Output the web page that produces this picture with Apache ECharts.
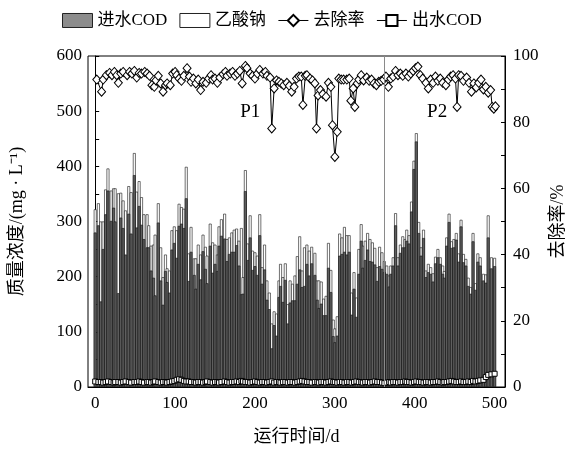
<!DOCTYPE html>
<html>
<head>
<meta charset="utf-8">
<script src="https://cdn.jsdelivr.net/npm/echarts@6/dist/echarts.min.js"></script>
<style>
  html, body { margin: 0; padding: 0; background: #fff; }
  #main { width: 569px; height: 450px; }
</style>
</head>
<body>
<div id="main"></div>
<script>
// Operating day of each sample
const barDays = [
  0,4,7,10,13,16,20,23,25,29,
  32,35,38,42,45,49,52,55,58,61,
  65,67,70,73,75,79,82,85,88,90,
  93,96,99,102,105,108,111,114,117,120,
  124,126,129,132,135,138,140,144,147,150,
  153,155,158,162,165,168,171,174,177,180,
  183,185,188,191,194,197,200,203,206,209,
  212,215,218,221,224,227,230,232,235,238,
  241,244,247,250,253,256,259,262,265,268,
  271,275,278,280,283,286,289,292,295,298,
  300,303,306,309,312,315,318,321,324,327,
  330,333,335,338,341,344,347,350,353,356,
  359,362,365,368,370,373,376,379,382,385,
  388,390,393,396,399,402,405,408,411,414,
  417,420,423,426,429,432,435,437,440,443,
  446,449,452,455,458,461,464,467,470,473,
  476,479,482,486,489,492,496,500
];
// Influent COD (mg/L)
const influentCOD = [
  280,293,155,250,313,356,301,325,300,170,
  307,288,240,314,278,384,289,328,294,268,
  253,253,211,198,166,298,193,149,210,190,
  171,249,261,234,292,296,288,342,192,245,
  203,178,223,195,246,214,188,256,207,223,
  210,256,274,269,228,241,245,245,257,220,
  168,169,355,230,271,212,219,203,275,187,
  213,158,141,70,112,93,163,183,154,194,
  115,153,157,157,187,213,181,183,223,202,
  224,203,158,143,151,130,130,216,172,92,
  81,93,238,241,245,240,245,131,178,127,
  205,265,216,230,249,228,227,222,192,219,
  214,208,205,182,205,220,293,220,243,253,
  253,265,260,318,395,445,279,238,270,199,
  208,205,191,224,235,223,205,198,256,299,
  252,253,267,227,291,226,220,183,169,264,
  176,227,220,193,189,271,215,219
];
// Sodium acetate dosage expressed as COD (mg/L)
const acetateCOD = [
  42,40,145,50,45,40,55,35,60,181,
  45,50,80,50,75,40,65,45,50,45,
  60,40,45,60,110,35,60,50,30,25,
  40,35,30,50,40,30,35,57,50,45,
  30,55,35,45,30,40,50,40,55,35,
  30,35,30,45,40,30,35,40,30,45,
  120,30,38,30,40,35,25,35,38,30,
  45,35,30,45,25,40,30,40,45,30,
  35,40,30,45,50,60,30,70,35,45,
  30,40,35,50,40,30,35,45,40,30,
  25,35,40,30,45,35,30,40,30,35,
  45,30,40,35,30,40,35,30,25,35,
  30,20,15,20,15,15,22,15,15,20,
  15,20,15,18,15,15,20,15,15,12,
  15,12,15,12,15,12,15,12,15,15,
  12,15,12,15,12,15,12,15,12,15,
  12,15,15,12,15,40,20,15
];
// Effluent COD (mg/L)
const effluentCOD = [
  10,9,9,8,9,10,9,8,9,9,
  8,9,10,9,8,9,9,10,9,8,
  9,9,8,9,10,9,8,9,9,8,
  9,10,11,13,14,13,11,10,10,9,
  9,8,9,9,8,9,10,9,8,9,
  9,8,9,10,9,8,9,9,10,9,
  11,10,9,9,8,9,10,9,8,9,
  9,8,9,10,8,9,9,8,9,9,
  8,9,9,8,9,10,11,10,9,9,
  8,9,9,8,9,9,8,9,10,9,
  9,8,9,9,8,9,9,8,9,10,
  9,9,8,9,9,8,9,10,9,9,
  8,7,8,9,8,9,9,8,9,9,
  10,9,9,8,9,10,9,9,8,9,
  9,8,9,9,10,9,8,9,9,10,
  11,10,9,9,10,9,9,10,9,11,
  10,11,12,13,18,22,23,24
];
// COD removal rate (%) and its sampling days
const rateDays = [
  2,8,10,14,18,21,24,27,29,32,35,40,43,46,49,52,55,58,62,65,
  68,71,74,76,79,82,85,88,90,94,97,100,102,105,108,111,115,118,120,123,
  126,129,132,135,139,142,145,147,150,153,156,160,163,165,169,172,175,178,181,184,
  188,190,194,197,200,203,206,210,213,215,219,221,224,227,230,233,236,240,243,246,
  249,252,255,258,260,263,265,269,272,275,277,279,282,285,289,292,295,297,300,303,
  305,308,311,315,318,320,323,325,328,330,333,336,340,343,346,349,352,355,358,361,
  364,367,370,373,376,379,382,385,389,392,395,398,401,404,407,410,414,417,420,423,
  426,429,432,435,439,442,445,448,451,453,455,458,461,465,468,471,474,477,480,483,
  486,489,492,495,497,499,501
];
const removalRate = [
  92.9,89.2,92.9,94.2,94.9,94.2,95.2,94.2,91.9,94.7,95.2,94.2,95.2,94.7,95.5,93.5,94.9,94.7,95.2,94.7,
  94.0,91.2,90.7,92.6,94.0,91.7,89.2,91.2,91.7,91.2,94.7,95.2,94.2,93.2,92.5,94.0,96.3,93.8,92.2,93.2,
  91.7,92.9,89.7,92.2,91.9,93.2,94.2,92.9,93.2,91.9,93.5,94.5,95.2,94.0,94.7,95.2,94.0,94.7,95.5,91.7,
  97.0,96.3,94.7,94.0,93.2,94.7,95.8,94.7,95.2,94.0,93.5,78.1,90.2,92.6,92.2,91.7,91.2,91.9,91.0,89.2,
  90.7,93.2,93.8,93.8,85.2,94.0,94.2,93.2,92.6,91.7,78.1,88.1,89.7,88.5,87.7,91.9,90.7,79.1,69.5,77.1,
  93.2,92.9,92.9,92.9,93.2,86.5,90.2,84.6,91.7,92.9,94.2,92.6,93.5,92.5,92.9,91.7,91.2,92.2,92.5,92.9,
  93.8,90.7,93.2,93.8,95.5,94.2,94.7,94.0,94.7,93.8,94.7,95.5,96.3,96.8,94.2,93.2,91.9,90.2,92.9,91.9,
  93.8,92.5,93.2,91.9,91.2,92.9,93.8,94.2,93.2,84.6,94.2,94.0,92.5,93.5,91.9,89.2,91.7,90.5,91.9,92.9,
  89.9,90.7,88.9,89.7,84.6,84.1,84.8
];
const dayTicks = [0, 100, 200, 300, 400, 500];
const phaseBoundaryDay = 362;
const phaseLabels = [{ name: 'P1', day: 194, rate: 83 }, { name: 'P2', day: 428, rate: 83 }];

const FONT = "'Liberation Serif', 'Noto Sans CJK SC', serif";

const pairs = (xs, ys) => xs.map((d, i) => [d, ys[i]]);
// Acetate sits on top of the influent load: the white bar spans the sum,
// and the grey influent bar is drawn over its lower part.
const feedTop = influentCOD.map((v, i) => v + acetateCOD[i]);

const chart = echarts.init(document.getElementById('main'));

chart.setOption({
  animation: false,
  textStyle: { fontFamily: FONT, color: '#000' },
  legend: {
    top: 7,
    left: 57,
    itemWidth: 30,
    itemHeight: 14,
    itemGap: 12,
    textStyle: { fontFamily: FONT, fontSize: 17, color: '#000' },
    data: [
      { name: '进水COD', icon: 'rect', itemStyle: { color: '#8c8c8c', borderColor: '#222', borderWidth: 1 } },
      { name: '乙酸钠', icon: 'rect', itemStyle: { color: '#fff', borderColor: '#222', borderWidth: 1 } },
      { name: '去除率', lineStyle: { width: 1 } },
      { name: '出水COD', lineStyle: { width: 1 } }
    ]
  },
  grid: {
    left: 88, right: 64, top: 56, bottom: 63,
    outerBoundsMode: 'none',
    show: true, borderColor: '#000', borderWidth: 1, backgroundColor: 'transparent'
  },
  xAxis: {
    type: 'value',
    min: -9,
    max: 513,
    name: '运行时间/d',
    nameLocation: 'middle',
    nameGap: 41,
    nameTextStyle: { fontFamily: FONT, fontSize: 18, color: '#000' },
    axisLine: { show: true, lineStyle: { color: '#000', width: 1 } },
    axisTick: { show: false },
    splitLine: { show: false },
    axisLabel: {
      fontFamily: FONT, fontSize: 17, color: '#000', margin: 8,
      showMinLabel: false, showMaxLabel: false,
      formatter: v => (dayTicks.indexOf(v) >= 0 ? String(v) : '')
    }
  },
  yAxis: [
    {
      type: 'value',
      min: 0, max: 600, interval: 100,
      name: '质量浓度/(mg · L⁻¹)',
      nameLocation: 'middle',
      nameGap: 62,
      nameRotate: 90,
      nameTextStyle: { fontFamily: FONT, fontSize: 18, color: '#000' },
      axisLine: { show: true, lineStyle: { color: '#000', width: 1 } },
      axisTick: { show: true, inside: true, length: 4, lineStyle: { color: '#000' } },
      minorTick: { show: true, splitNumber: 2, length: 4, lineStyle: { color: '#000' } },
      splitLine: { show: false },
      axisLabel: { fontFamily: FONT, fontSize: 17, color: '#000', margin: 6 }
    },
    {
      type: 'value',
      min: 0, max: 100, interval: 20,
      position: 'right',
      name: '去除率/%',
      nameLocation: 'middle',
      nameGap: 40,
      nameRotate: 90,
      nameTextStyle: { fontFamily: FONT, fontSize: 18, color: '#000' },
      axisLine: { show: true, lineStyle: { color: '#000', width: 1 } },
      axisTick: { show: true, inside: true, length: 4, lineStyle: { color: '#000' } },
      minorTick: { show: true, splitNumber: 2, length: 4, lineStyle: { color: '#000' } },
      splitLine: { show: false },
      axisLabel: { fontFamily: FONT, fontSize: 17, color: '#000', margin: 8 }
    }
  ],
  series: [
    {
      name: '乙酸钠',
      type: 'bar',
      barWidth: 2.8,
      barGap: '-100%',
      data: pairs(barDays, feedTop),
      itemStyle: { color: '#fff', borderColor: '#111', borderWidth: 0.6 },
      z: 1
    },
    {
      name: '进水COD',
      type: 'bar',
      barWidth: 2.8,
      barGap: '-100%',
      data: pairs(barDays, influentCOD),
      itemStyle: { color: '#5f5f5f', borderColor: '#111', borderWidth: 0.6 },
      z: 2
    },
    {
      name: '出水COD',
      type: 'line',
      yAxisIndex: 0,
      data: pairs(barDays, effluentCOD),
      symbol: 'rect',
      symbolSize: 5,
      showAllSymbol: true,
      lineStyle: { color: '#000', width: 1 },
      itemStyle: { color: '#fff', borderColor: '#000', borderWidth: 1 },
      z: 3
    },
    {
      name: '去除率',
      type: 'line',
      yAxisIndex: 1,
      data: pairs(rateDays, removalRate),
      symbol: 'diamond',
      symbolSize: [8, 9],
      showAllSymbol: true,
      lineStyle: { color: '#000', width: 1 },
      itemStyle: { color: '#fff', borderColor: '#000', borderWidth: 1 },
      z: 4,
      markLine: {
        silent: true,
        symbol: ['none', 'none'],
        label: { show: false },
        lineStyle: { color: '#8a8a8a', width: 1, type: 'solid' },
        data: [{ xAxis: phaseBoundaryDay }]
      },
      markPoint: {
        silent: true,
        symbol: 'circle',
        symbolSize: 1,
        itemStyle: { color: 'rgba(0,0,0,0)', borderWidth: 0 },
        label: {
          show: true, position: 'inside',
          fontFamily: FONT, fontSize: 19, color: '#000',
          formatter: p => p.name
        },
        data: phaseLabels.map(p => ({ name: p.name, coord: [p.day, p.rate] }))
      }
    }
  ]
});
</script>
</body>
</html>
